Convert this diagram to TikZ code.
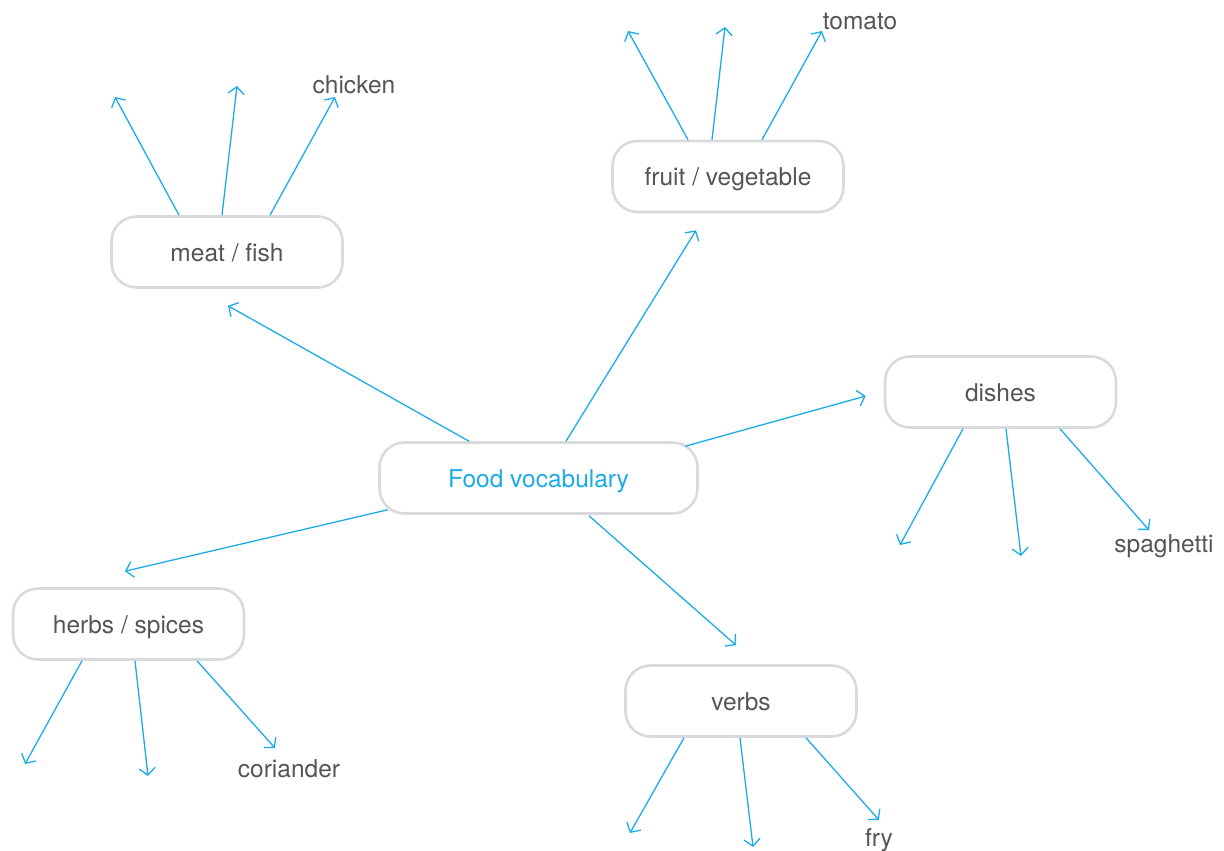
\documentclass[tikz,border=0pt]{standalone}
\usepackage{fontspec}
\setmainfont{TeX Gyre Heros}
\usetikzlibrary{arrows.meta,calc}
\definecolor{tblue}{RGB}{27,172,232}
\definecolor{tgray}{RGB}{85,85,85}
\definecolor{bgray}{RGB}{216,218,220}
\tikzset{
  box/.style={draw=bgray, line width=2.6pt, rounded corners=25pt, minimum width=231pt, minimum height=71pt, fill=white, text=tgray, font=\fontsize{24.5}{28}\selectfont, inner sep=0pt, text height=18pt, text depth=0pt},
  mainbox/.style={box, minimum width=318pt, text=tblue},
  word/.style={text=tgray, font=\fontsize{24.5}{28}\selectfont, inner sep=0pt},
  link/.style={draw=tblue, line width=1.3pt, -{Straight Barb[length=7pt,width=16pt,line width=1.3pt]}}
}
\begin{document}
\begin{tikzpicture}[x=1pt,y=-1pt]
\useasboundingbox (0,0) rectangle (1224,851);
\node[mainbox] (food) at (538.5,478) {Food vocabulary};
\node[box] (meat) at (227,252) {meat / fish};
\node[box] (fruit) at (728,176.5) {fruit / vegetable};
\node[box] (dishes) at (1000.5,392) {dishes};
\node[box] (herbs) at (128.5,624) {herbs / spices};
\node[box] (verbs) at (741,701) {verbs};
\node[word] (chicken) at (354,85) {chicken};
\node[word] (tomato) at (860,22) {tomato};
\node[word] (spaghetti) at (1164,546) {spaghetti};
\node[word] (coriander) at (289,769) {coriander};
\node[word] (fry) at (879,840) {fry};
% main links
\draw[link] ($(food.north)+(-69.5,0)$) -- ($(meat.south)+(1,17)$);
\draw[link] ($(food.north)+(27.5,0)$) -- ($(fruit.south)+(-32,17)$);
\draw[link] ($(food.north east)+(-13.5,5)$) -- ($(dishes.west)+(-18,4)$);
\draw[link] ($(food.south west)+(9.5,-5)$) -- ($(herbs.north)+(-3.5,-16)$);
\draw[link] ($(food.south)+(50.5,1)$) -- ($(verbs.north)+(-5,-19)$);
% meat
\coordinate (m1) at (115,97);
\coordinate (m2) at (237,86);
\draw[link] ($(meat.north)+(-48,0)$) -- (m1);
\draw[link] ($(meat.north)+(-5,0)$) -- (m2);
\draw[link] ($(meat.north)+(43,0)$) -- ($(chicken)+(-19,12)$);
% fruit
\coordinate (f1) at (628,31);
\coordinate (f2) at (725,27);
\draw[link] ($(fruit.north)+(-40,0)$) -- (f1);
\draw[link] ($(fruit.north)+(-16,0)$) -- (f2);
\draw[link] ($(fruit.north)+(34,0)$) -- ($(tomato)+(-38,9)$);
% dishes
\coordinate (d1) at (900,545);
\coordinate (d2) at (1021,556);
\draw[link] ($(dishes.south)+(-37.5,0)$) -- (d1);
\draw[link] ($(dishes.south)+(5.5,0)$) -- (d2);
\draw[link] ($(dishes.south)+(59.5,0)$) -- ($(spaghetti)+(-15,-16)$);
% herbs
\coordinate (h1) at (25,764);
\coordinate (h2) at (148,776);
\draw[link] ($(herbs.south)+(-46.5,0)$) -- (h1);
\draw[link] ($(herbs.south)+(6.5,0)$) -- (h2);
\draw[link] ($(herbs.south)+(68.5,0)$) -- ($(coriander)+(-14,-21)$);
% verbs
\coordinate (v1) at (630,833);
\coordinate (v2) at (753,847);
\draw[link] ($(verbs.south)+(-57,0)$) -- (v1);
\draw[link] ($(verbs.south)+(-1,0)$) -- (v2);
\draw[link] ($(verbs.south)+(65,0)$) -- ($(fry)+(0,-20)$);
\end{tikzpicture}
\end{document}
